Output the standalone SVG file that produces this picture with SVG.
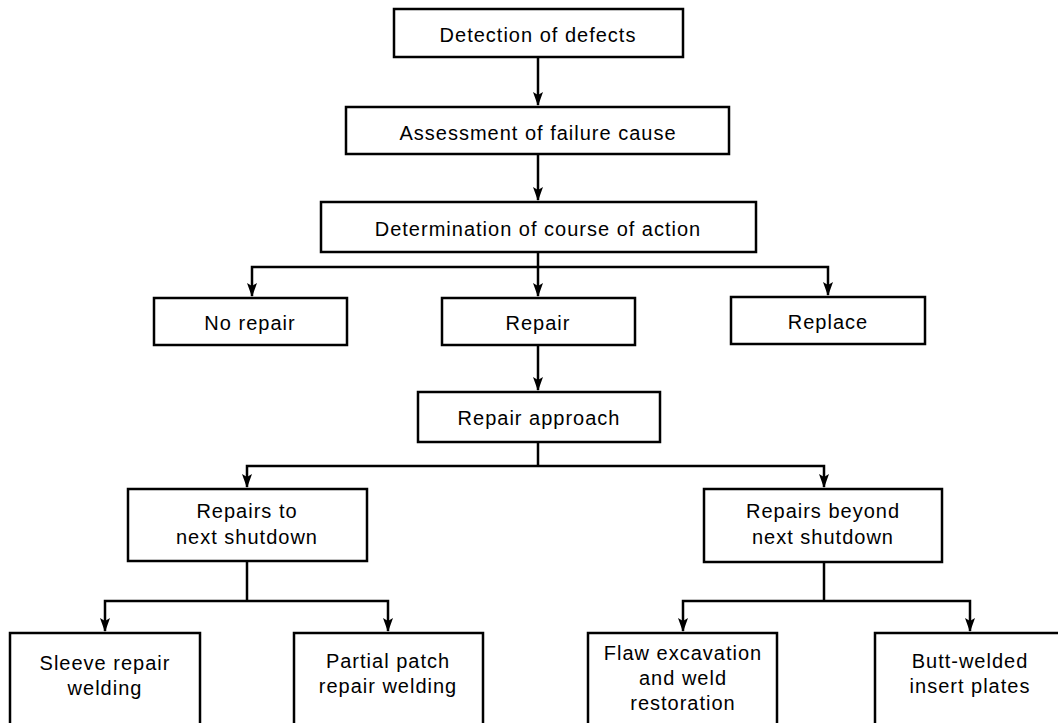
<svg xmlns="http://www.w3.org/2000/svg" width="1058" height="723" viewBox="0 0 1058 723">
<defs>
<marker id="arr" markerWidth="14" markerHeight="10" refX="13" refY="5" orient="auto-start-reverse" markerUnits="userSpaceOnUse" viewBox="0 0 14 10">
<path d="M0,0 L14,5 L0,10 L3,5 Z" fill="#000"/>
</marker>
<style>
.box{fill:#fff;stroke:#000;stroke-width:2.5}
.t{font-family:"Liberation Sans",Arial,sans-serif;font-size:20px;letter-spacing:1px;fill:#000;text-anchor:middle}
.c{fill:none;stroke:#000;stroke-width:2.5}
</style>
</defs>
<rect width="1058" height="723" fill="#fff"/>
<g id="connectors">
<path class="c" d="M538,57 V105" marker-end="url(#arr)"/>
<path class="c" d="M538,154 V200" marker-end="url(#arr)"/>
<path class="c" d="M538,252 V296" marker-end="url(#arr)"/>
<path class="c" d="M252,296 V267 H828 V295" marker-start="url(#arr)" marker-end="url(#arr)"/>
<path class="c" d="M538,345 V390" marker-end="url(#arr)"/>
<path class="c" d="M538,442 V466"/>
<path class="c" d="M247,487 V466 H824 V487" marker-start="url(#arr)" marker-end="url(#arr)"/>
<path class="c" d="M247,561 V601"/>
<path class="c" d="M105,631 V601 H388 V631" marker-start="url(#arr)" marker-end="url(#arr)"/>
<path class="c" d="M824,562 V601"/>
<path class="c" d="M683,631 V601 H970 V631" marker-start="url(#arr)" marker-end="url(#arr)"/>
</g>
<g id="n1"><rect class="box" x="394" y="9" width="289" height="48"/><text class="t" x="538" y="42">Detection of defects</text></g>
<g id="n2"><rect class="box" x="346" y="107" width="383" height="47"/><text class="t" x="538" y="140">Assessment of failure cause</text></g>
<g id="n3"><rect class="box" x="321" y="202" width="435" height="50"/><text class="t" x="538" y="236">Determination of course of action</text></g>
<g id="n4"><rect class="box" x="154" y="298" width="193" height="47"/><text class="t" x="250" y="330">No repair</text></g>
<g id="n5"><rect class="box" x="442" y="298" width="193" height="47"/><text class="t" x="538" y="330">Repair</text></g>
<g id="n6"><rect class="box" x="731" y="297" width="194" height="47"/><text class="t" x="828" y="329">Replace</text></g>
<g id="n7"><rect class="box" x="418" y="392" width="242" height="50"/><text class="t" x="539" y="425">Repair approach</text></g>
<g id="n8"><rect class="box" x="128" y="489" width="239" height="72"/><text class="t" x="247" y="518">Repairs to</text><text class="t" x="247" y="544">next shutdown</text></g>
<g id="n9"><rect class="box" x="704" y="489" width="238" height="73"/><text class="t" x="823" y="518">Repairs beyond</text><text class="t" x="823" y="544">next shutdown</text></g>
<g id="n10"><rect class="box" x="10" y="633" width="190" height="100"/><text class="t" x="105" y="670">Sleeve repair</text><text class="t" x="105" y="695">welding</text></g>
<g id="n11"><rect class="box" x="294" y="633" width="189" height="100"/><text class="t" x="388" y="668">Partial patch</text><text class="t" x="388" y="693">repair welding</text></g>
<g id="n12"><rect class="box" x="588" y="633" width="189" height="100"/><text class="t" x="683" y="660">Flaw excavation</text><text class="t" x="683" y="685">and weld</text><text class="t" x="683" y="710">restoration</text></g>
<g id="n13"><rect class="box" x="875" y="633" width="190" height="100"/><text class="t" x="970" y="668">Butt-welded</text><text class="t" x="970" y="693">insert plates</text></g>
</svg>
